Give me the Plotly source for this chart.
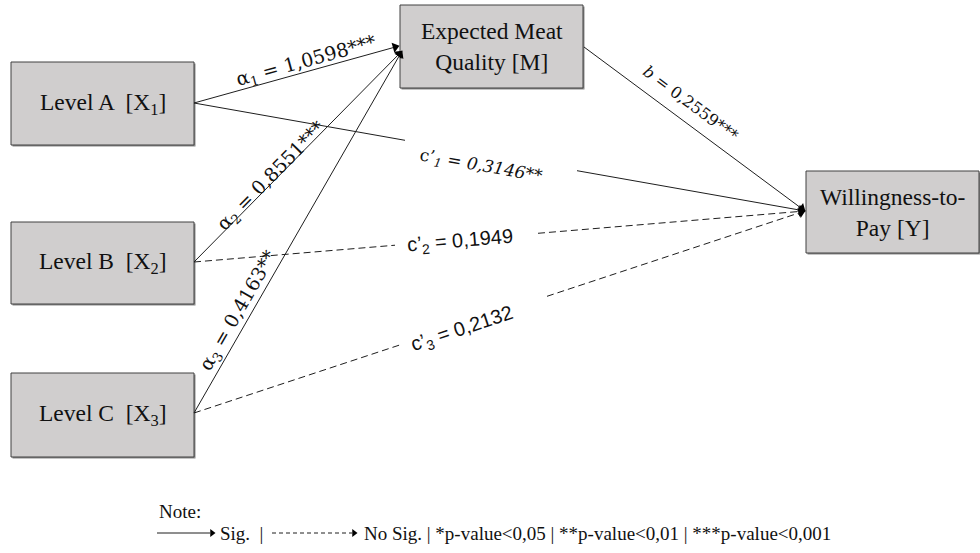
import math
import plotly.graph_objects as go

# ---------------- data ----------------
node_ids = ["X1", "X2", "X3", "M", "Y"]
node_labels = ["Level A  [X<sub>1</sub>]", "Level B  [X<sub>2</sub>]", "Level C  [X<sub>3</sub>]",
               "Expected Meat<br>Quality [M]", "Willingness-to-<br>Pay [Y]"]

edge_from = ["X1", "X2", "X3", "M", "X1", "X2", "X3"]
edge_to = ["M", "M", "M", "Y", "Y", "Y", "Y"]
edge_names = ["α<sub>1</sub>", "α<sub>2</sub>", "α<sub>3</sub>", "<i>b</i>",
              "c’<sub><i>1</i></sub>", "c’<sub>2</sub>", "c’<sub>3</sub>"]
edge_coef = [1.0598, 0.8551, 0.4163, 0.2559, 0.3146, 0.1949, 0.2132]
edge_stars = ["***", "***", "**", "***", "**", "", ""]
edge_sig = [True, True, True, True, True, False, False]

note_title = "Note:"
note_sig = "Sig.  |"
note_rest = "No Sig. | *p-value&lt;0,05 | **p-value&lt;0,01 | ***p-value&lt;0,001"

# ---------------- layout (positions / styles) ----------------
W, H = 980, 553
boxes = {
    "X1": (11, 194, 62, 145),
    "X2": (11, 194, 222, 304),
    "X3": (11, 194, 373, 457),
    "M": (400, 583, 5, 88),
    "Y": (806, 979, 171, 253),
}
out_pt = {"X1": (194, 103), "X2": (194, 262), "X3": (194, 413), "M": (584, 47)}
in_pt = {("X1", "M"): (399, 46), ("X2", "M"): (402, 51), ("X3", "M"): (402, 51),
         ("M", "Y"): (805, 211), ("X1", "Y"): (805, 211), ("X2", "Y"): (805, 211),
         ("X3", "Y"): (805, 211)}
gaps = [None, None, None, None, (405, 577), (395, 538), (400, 547)]
label_pos = [(306, 61), (271, 176), (238, 311), (691, 103), (481, 166), (460, 241), (462, 329)]
label_font = [
    dict(family="DejaVu Serif", size=19),
    dict(family="DejaVu Serif", size=19),
    dict(family="DejaVu Serif", size=19),
    dict(family="DejaVu Serif", size=16),
    dict(family="DejaVu Serif", size=17),
    dict(family="Liberation Sans", size=20),
    dict(family="Liberation Sans", size=20),
]
LINE_C = "#1e1e1e"
FILL = "#d0cece"
BORDER = "#404040"
BOX_FONT = dict(family="Liberation Serif", size=23.5, color="#111111")
NOTE_FONT = dict(family="Liberation Serif", size=19, color="#111111")

fig = go.Figure()

for nid, lab in zip(node_ids, node_labels):
    x0, x1, y0, y1 = boxes[nid]
    fig.add_shape(type="rect", x0=x0 + 1.5, x1=x1 + 1.5, y0=y0 + 1.5, y1=y1 + 1.5,
                  xref="x", yref="y", line=dict(width=0), fillcolor="#8a8a8a", layer="below")
    fig.add_shape(type="rect", x0=x0, x1=x1, y0=y0, y1=y1, xref="x", yref="y",
                  line=dict(color=BORDER, width=1), fillcolor=FILL, layer="below")
    fig.add_annotation(x=(x0 + x1) / 2, y=(y0 + y1) / 2, xref="x", yref="y",
                       text=lab, showarrow=False, font=BOX_FONT)


def fmt(v):
    return f"{v:.4f}".replace(".", ",")


for i in range(len(edge_from)):
    s = out_pt[edge_from[i]]
    e = in_pt[(edge_from[i], edge_to[i])]
    dx, dy = e[0] - s[0], e[1] - s[1]
    L = math.hypot(dx, dy)
    ux, uy = dx / L, dy / L
    ang = math.degrees(math.atan2(dy, dx))
    dash = "solid" if edge_sig[i] else "7px,4px"
    e_line = (e[0] - ux * 4, e[1] - uy * 4)
    segs = []
    if gaps[i] is None:
        segs.append((s, e_line))
    else:
        ga, gb = gaps[i]
        ta = (ga - s[0]) / dx
        tb = (gb - s[0]) / dx
        segs.append((s, (s[0] + dx * ta, s[1] + dy * ta)))
        segs.append(((s[0] + dx * tb, s[1] + dy * tb), e_line))
    xs, ys = [], []
    for a, b in segs:
        xs += [a[0], b[0], None]
        ys += [a[1], b[1], None]
    fig.add_trace(go.Scatter(x=xs, y=ys, mode="lines", hoverinfo="skip", showlegend=False,
                             line=dict(color=LINE_C, width=1, dash=dash)))
    fig.add_trace(go.Scatter(x=[e[0] - ux * 4], y=[e[1] - uy * 4], mode="markers",
                             hoverinfo="skip", showlegend=False,
                             marker=dict(symbol="triangle-right", size=9, angle=ang,
                                         color="#000000", line=dict(width=0))))
    stars = edge_stars[i]
    txt = f"{edge_names[i]} = {fmt(edge_coef[i])}{stars}"
    if i == 4:
        txt = f"{edge_names[i]} = <i>{fmt(edge_coef[i])}{stars}</i>"
    lx, ly = label_pos[i]
    fig.add_annotation(x=lx, y=ly, xref="x", yref="y", text=txt, showarrow=False,
                       textangle=ang, font=dict(color="#111111", **label_font[i]))

# note / legend
fig.add_annotation(x=157, y=511, xref="x", yref="y", text=note_title, showarrow=False,
                   xanchor="left", font=NOTE_FONT)
fig.add_trace(go.Scatter(x=[157, 210], y=[533, 533], mode="lines", hoverinfo="skip",
                         showlegend=False, line=dict(color=LINE_C, width=1)))
fig.add_trace(go.Scatter(x=[212], y=[533], mode="markers", hoverinfo="skip", showlegend=False,
                         marker=dict(symbol="triangle-right", size=7, color="#000000")))
fig.add_annotation(x=218, y=533, xref="x", yref="y", text=note_sig, showarrow=False,
                   xanchor="left", font=NOTE_FONT)
fig.add_trace(go.Scatter(x=[272, 352], y=[533, 533], mode="lines", hoverinfo="skip",
                         showlegend=False, line=dict(color=LINE_C, width=1, dash="4px,3px")))
fig.add_trace(go.Scatter(x=[354], y=[533], mode="markers", hoverinfo="skip", showlegend=False,
                         marker=dict(symbol="triangle-right", size=7, color="#000000")))
fig.add_annotation(x=362, y=533, xref="x", yref="y", text=note_rest, showarrow=False,
                   xanchor="left", font=NOTE_FONT)

fig.update_xaxes(range=[0, W], visible=False, fixedrange=True)
fig.update_yaxes(range=[H, 0], visible=False, fixedrange=True)
fig.update_layout(width=W, height=H, margin=dict(l=0, r=0, t=0, b=0),
                  plot_bgcolor="white", paper_bgcolor="white", showlegend=False)

fig.write_html("out.html", config={"displayModeBar": False},
               post_script="document.body.style.margin='0';")
